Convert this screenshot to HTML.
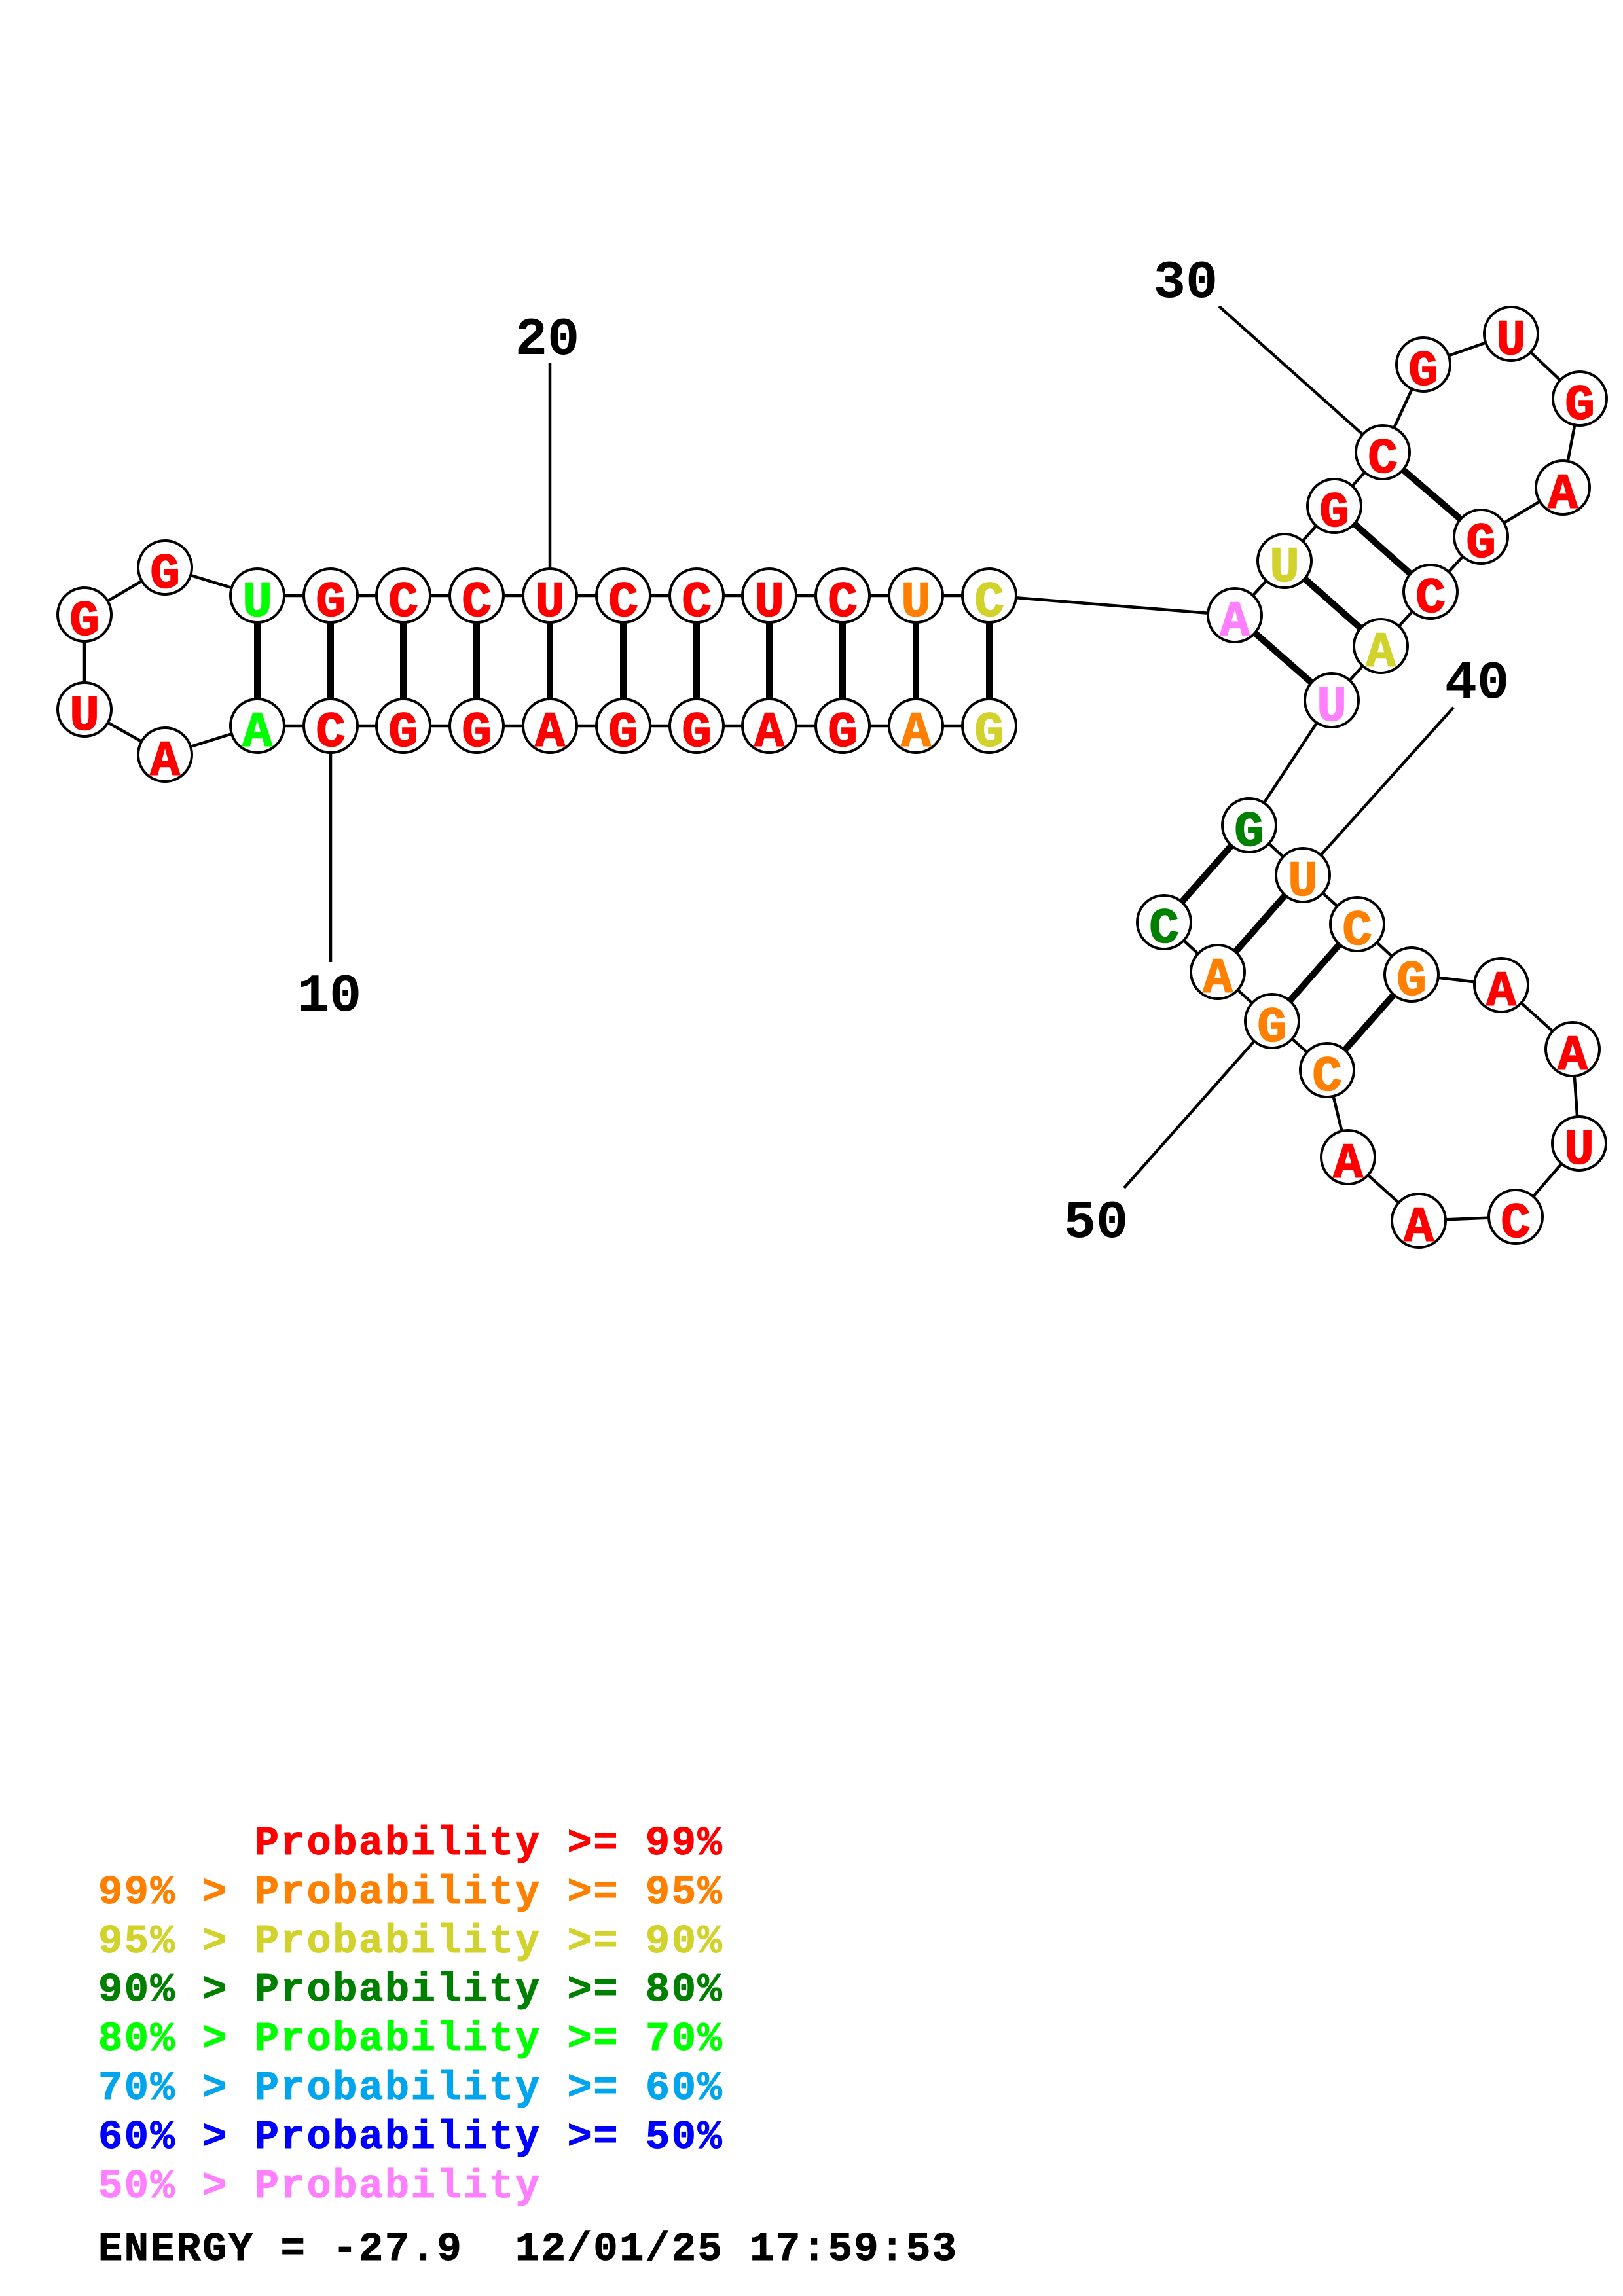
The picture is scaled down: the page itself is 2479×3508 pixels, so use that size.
<!DOCTYPE html>
<html>
<head>
<meta charset="utf-8">
<style>
  html, body { margin:0; padding:0; background:#ffffff; }
  svg { display:block; }
  .n { font-family:"Liberation Mono", monospace; font-weight:bold; font-size:76px; text-anchor:middle; stroke-width:1.6px; }
  .lbl { font-family:"Liberation Mono", monospace; font-weight:bold; font-size:82px; text-anchor:middle; fill:#000; }
  .lg { font-family:"Liberation Mono", monospace; font-weight:bold; font-size:62px; letter-spacing:2.6px; white-space:pre; stroke-width:1px; }
  .r { fill:#ff0000; stroke:#ff0000; } .o { fill:#ff8000; stroke:#ff8000; } .y { fill:#d2d22c; stroke:#d2d22c; } .dg { fill:#008000; stroke:#008000; }
  .g { fill:#00ff00; stroke:#00ff00; } .sb { fill:#00a5ee; stroke:#00a5ee; } .b { fill:#0000ff; stroke:#0000ff; } .p { fill:#ff80ff; stroke:#ff80ff; } .k { fill:#000; stroke:#000; }
</style>
</head>
<body>
<svg width="2479" height="3508" viewBox="0 0 2479 3508" xmlns="http://www.w3.org/2000/svg">
<rect x="0" y="0" width="2479" height="3508" fill="#ffffff"/>

<!-- label lines -->
<g stroke="#000" stroke-width="4.5" fill="none">
  <line x1="840" y1="555" x2="840" y2="910"/>
  <line x1="505" y1="1109" x2="505" y2="1470"/>
  <line x1="1862" y1="468" x2="2112" y2="691"/>
  <line x1="2220" y1="1081" x2="1990" y2="1337"/>
  <line x1="1717" y1="1815" x2="1943" y2="1560"/>
</g>

<!-- backbone -->
<polyline fill="none" stroke="#000" stroke-width="4.5" stroke-linejoin="round" points="
1511,1109 1399,1109 1287,1109 1175,1109 1064,1109 952,1109 840,1109 728,1109 616,1109 505,1109 393,1109
252,1153 129,1084 129,939 252,867
393,910 505,910 616,910 728,910 840,910 952,910 1064,910 1175,910 1287,910 1399,910 1511,910
1886,940 1962,857 2038,773 2112,691 2174,557 2308,510 2413,609 2387,745 2262,820 2185,904 2109,987 2034,1070
1908,1261 1990,1337 2073,1412 2156,1489 2293,1505 2402,1603 2412,1747 2315,1859 2167,1865 2059,1768 2027,1635 1943,1560 1860,1485 1778,1409"/>

<!-- pairs -->
<g stroke="#000" stroke-width="10" fill="none">
  <line x1="393" y1="1109" x2="393" y2="910"/>
  <line x1="505" y1="1109" x2="505" y2="910"/>
  <line x1="616" y1="1109" x2="616" y2="910"/>
  <line x1="728" y1="1109" x2="728" y2="910"/>
  <line x1="840" y1="1109" x2="840" y2="910"/>
  <line x1="952" y1="1109" x2="952" y2="910"/>
  <line x1="1064" y1="1109" x2="1064" y2="910"/>
  <line x1="1175" y1="1109" x2="1175" y2="910"/>
  <line x1="1287" y1="1109" x2="1287" y2="910"/>
  <line x1="1399" y1="1109" x2="1399" y2="910"/>
  <line x1="1511" y1="1109" x2="1511" y2="910"/>
  <line x1="1886" y1="940" x2="2034" y2="1070"/>
  <line x1="1962" y1="857" x2="2109" y2="987"/>
  <line x1="2038" y1="773" x2="2185" y2="904"/>
  <line x1="2112" y1="691" x2="2262" y2="820"/>
  <line x1="1908" y1="1261" x2="1778" y2="1409"/>
  <line x1="1990" y1="1337" x2="1860" y2="1485"/>
  <line x1="2073" y1="1412" x2="1943" y2="1560"/>
  <line x1="2156" y1="1489" x2="2027" y2="1635"/>
</g>

<!-- circles -->
<g fill="#ffffff" stroke="#000" stroke-width="4">
  <circle cx="1511" cy="1109" r="41"/><circle cx="1399" cy="1109" r="41"/><circle cx="1287" cy="1109" r="41"/>
  <circle cx="1175" cy="1109" r="41"/><circle cx="1064" cy="1109" r="41"/><circle cx="952" cy="1109" r="41"/>
  <circle cx="840" cy="1109" r="41"/><circle cx="728" cy="1109" r="41"/><circle cx="616" cy="1109" r="41"/>
  <circle cx="505" cy="1109" r="41"/><circle cx="393" cy="1109" r="41"/>
  <circle cx="252" cy="1153" r="41"/><circle cx="129" cy="1084" r="41"/><circle cx="129" cy="939" r="41"/><circle cx="252" cy="867" r="41"/>
  <circle cx="393" cy="910" r="41"/><circle cx="505" cy="910" r="41"/><circle cx="616" cy="910" r="41"/>
  <circle cx="728" cy="910" r="41"/><circle cx="840" cy="910" r="41"/><circle cx="952" cy="910" r="41"/>
  <circle cx="1064" cy="910" r="41"/><circle cx="1175" cy="910" r="41"/><circle cx="1287" cy="910" r="41"/>
  <circle cx="1399" cy="910" r="41"/><circle cx="1511" cy="910" r="41"/>
  <circle cx="1886" cy="940" r="41"/><circle cx="1962" cy="857" r="41"/><circle cx="2038" cy="773" r="41"/>
  <circle cx="2112" cy="691" r="41"/><circle cx="2174" cy="557" r="41"/><circle cx="2308" cy="510" r="41"/>
  <circle cx="2413" cy="609" r="41"/><circle cx="2387" cy="745" r="41"/><circle cx="2262" cy="820" r="41"/>
  <circle cx="2185" cy="904" r="41"/><circle cx="2109" cy="987" r="41"/><circle cx="2034" cy="1070" r="41"/>
  <circle cx="1908" cy="1261" r="41"/><circle cx="1990" cy="1337" r="41"/><circle cx="2073" cy="1412" r="41"/>
  <circle cx="2156" cy="1489" r="41"/><circle cx="2293" cy="1505" r="41"/><circle cx="2402" cy="1603" r="41"/>
  <circle cx="2412" cy="1747" r="41"/><circle cx="2315" cy="1859" r="41"/><circle cx="2167" cy="1865" r="41"/>
  <circle cx="2059" cy="1768" r="41"/><circle cx="2027" cy="1635" r="41"/><circle cx="1943" cy="1560" r="41"/>
  <circle cx="1860" cy="1485" r="41"/><circle cx="1778" cy="1409" r="41"/>
</g>

<!-- nucleotide letters -->
<g>
  <text class="n y" x="1511" y="1140">G</text>
  <text class="n o" x="1399" y="1140">A</text>
  <text class="n r" x="1287" y="1140">G</text>
  <text class="n r" x="1175" y="1140">A</text>
  <text class="n r" x="1064" y="1140">G</text>
  <text class="n r" x="952" y="1140">G</text>
  <text class="n r" x="840" y="1140">A</text>
  <text class="n r" x="728" y="1140">G</text>
  <text class="n r" x="616" y="1140">G</text>
  <text class="n r" x="505" y="1140">C</text>
  <text class="n g" x="393" y="1140">A</text>
  <text class="n r" x="252" y="1184">A</text>
  <text class="n r" x="129" y="1115">U</text>
  <text class="n r" x="129" y="970">G</text>
  <text class="n r" x="252" y="898">G</text>
  <text class="n g" x="393" y="941">U</text>
  <text class="n r" x="505" y="941">G</text>
  <text class="n r" x="616" y="941">C</text>
  <text class="n r" x="728" y="941">C</text>
  <text class="n r" x="840" y="941">U</text>
  <text class="n r" x="952" y="941">C</text>
  <text class="n r" x="1064" y="941">C</text>
  <text class="n r" x="1175" y="941">U</text>
  <text class="n r" x="1287" y="941">C</text>
  <text class="n o" x="1399" y="941">U</text>
  <text class="n y" x="1511" y="941">C</text>
  <text class="n p" x="1886" y="971">A</text>
  <text class="n y" x="1962" y="888">U</text>
  <text class="n r" x="2038" y="804">G</text>
  <text class="n r" x="2112" y="722">C</text>
  <text class="n r" x="2174" y="588">G</text>
  <text class="n r" x="2308" y="541">U</text>
  <text class="n r" x="2413" y="640">G</text>
  <text class="n r" x="2387" y="776">A</text>
  <text class="n r" x="2262" y="851">G</text>
  <text class="n r" x="2185" y="935">C</text>
  <text class="n y" x="2109" y="1018">A</text>
  <text class="n p" x="2034" y="1101">U</text>
  <text class="n dg" x="1908" y="1292">G</text>
  <text class="n o" x="1990" y="1368">U</text>
  <text class="n o" x="2073" y="1443">C</text>
  <text class="n o" x="2156" y="1520">G</text>
  <text class="n r" x="2293" y="1536">A</text>
  <text class="n r" x="2402" y="1634">A</text>
  <text class="n r" x="2412" y="1778">U</text>
  <text class="n r" x="2315" y="1890">C</text>
  <text class="n r" x="2167" y="1896">A</text>
  <text class="n r" x="2059" y="1799">A</text>
  <text class="n o" x="2027" y="1666">C</text>
  <text class="n o" x="1943" y="1591">G</text>
  <text class="n o" x="1860" y="1516">A</text>
  <text class="n dg" x="1778" y="1440">C</text>
</g>

<!-- position labels -->
<text class="lbl" x="836" y="541">20</text>
<text class="lbl" x="503" y="1544">10</text>
<text class="lbl" x="1811" y="454">30</text>
<text class="lbl" x="2256" y="1066">40</text>
<text class="lbl" x="1674" y="1890">50</text>

<!-- legend -->
<text class="lg r" x="150" y="2833" xml:space="preserve">      Probability &gt;= 99%</text>
<text class="lg o" x="150" y="2908" xml:space="preserve">99% &gt; Probability &gt;= 95%</text>
<text class="lg y" x="150" y="2983" xml:space="preserve">95% &gt; Probability &gt;= 90%</text>
<text class="lg dg" x="150" y="3057" xml:space="preserve">90% &gt; Probability &gt;= 80%</text>
<text class="lg g" x="150" y="3132" xml:space="preserve">80% &gt; Probability &gt;= 70%</text>
<text class="lg sb" x="150" y="3207" xml:space="preserve">70% &gt; Probability &gt;= 60%</text>
<text class="lg b" x="150" y="3282" xml:space="preserve">60% &gt; Probability &gt;= 50%</text>
<text class="lg p" x="150" y="3357" xml:space="preserve">50% &gt; Probability</text>
<text class="lg k" x="150" y="3453" xml:space="preserve">ENERGY = -27.9  12/01/25 17:59:53</text>
</svg>
</body>
</html>
